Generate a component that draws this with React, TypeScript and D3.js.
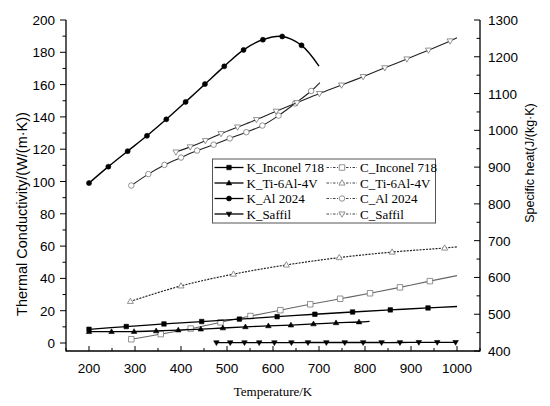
import React from "react";
import * as d3 from "d3";

// ---------- data ----------
const kInconelT = [200, 281, 363, 445, 527, 609, 691, 773, 855, 937, 1000];
const kInconelV = [8.5, 10.2, 11.8, 13.3, 14.8, 16.3, 17.8, 19.2, 20.5, 21.7, 22.6];

const kTiT = [200, 249, 298, 346, 394, 443, 491, 540, 590, 639, 688, 737, 787, 810];
const kTiV = [7.0, 7.0, 7.1, 7.5, 8.0, 8.6, 9.3, 10.0, 10.6, 11.1, 11.8, 12.5, 13.0, 13.4];

const kAlT = [200, 242, 284, 326, 368, 410, 452, 494, 536, 578, 620, 662, 700];
const kAlV = [99, 109.2, 118.8, 128.3, 138.5, 149.3, 160.3, 171.3, 181.5, 187.8, 189.8, 184.3, 171.5];

const kSaffilT = [477, 507, 538, 570, 603, 640, 676, 716, 756, 796, 836, 876, 917, 957, 997];
const kSaffilV = [0.2, 0.2, 0.2, 0.2, 0.2, 0.2, 0.3, 0.3, 0.3, 0.3, 0.3, 0.3, 0.4, 0.4, 0.4];

const cInconelT = [292, 356, 421, 486, 551, 616, 681, 746, 811, 876, 941, 1000];
const cInconelV = [432, 446, 461, 478, 495, 511, 527, 542, 557, 573, 590, 605];

const cTiT = [290, 400, 514, 629, 744, 859, 973, 1000];
const cTiV = [535, 577, 609, 634, 654, 669, 680, 683];

const cAlT = [292, 329, 364, 400, 435, 471, 506, 542, 577, 612, 648, 683, 702];
const cAlV = [850, 881, 906, 926, 945, 961, 978, 995, 1013, 1040, 1073, 1107, 1130];

const cSaffilT = [389, 420, 453, 487, 523, 564, 607, 652, 701, 749, 796, 843, 891, 938, 985, 1000];
const cSaffilV = [941, 955, 972, 991, 1009, 1029, 1052, 1075, 1100, 1123, 1146, 1170, 1194, 1218, 1243, 1252];

const xTicks = [200, 300, 400, 500, 600, 700, 800, 900, 1000];
const yLeftTicks = [0, 20, 40, 60, 80, 100, 120, 140, 160, 180, 200];
const yRightTicks = [400, 500, 600, 700, 800, 900, 1000, 1100, 1200, 1300];

// ---------- layout ----------
const W = 550;
const H = 406;
const L = 66;
const R = 480;
const T = 20;
const B = 351;

const x = d3.scaleLinear().domain([150, 1050]).range([L, R]);
const yL = d3.scaleLinear().domain([-4.95, 200]).range([B, T]);
const yR = d3.scaleLinear().domain([400, 1300]).range([B, T]);

type Marker = "square" | "triUp" | "circle" | "triDown";

interface Series {
  name: string;
  t: number[];
  v: number[];
  axis: "L" | "R";
  marker: Marker;
  filled: boolean;
  stroke: string;
  markerStroke: string;
  dash?: string;
  width: number;
  noMarkerLast: boolean;
}

const kSeries: Series[] = [
  { name: "K_Inconel 718", t: kInconelT, v: kInconelV, axis: "L", marker: "square", filled: true, stroke: "#000", markerStroke: "#000", width: 1.3, noMarkerLast: true },
  { name: "K_Ti-6Al-4V", t: kTiT, v: kTiV, axis: "L", marker: "triUp", filled: true, stroke: "#000", markerStroke: "#000", width: 1.3, noMarkerLast: true },
  { name: "K_Al 2024", t: kAlT, v: kAlV, axis: "L", marker: "circle", filled: true, stroke: "#000", markerStroke: "#000", width: 1.4, noMarkerLast: true },
  { name: "K_Saffil", t: kSaffilT, v: kSaffilV, axis: "L", marker: "triDown", filled: true, stroke: "#000", markerStroke: "#000", width: 1.3, noMarkerLast: false },
];

const cSeries: Series[] = [
  { name: "C_Inconel 718", t: cInconelT, v: cInconelV, axis: "R", marker: "square", filled: false, stroke: "#666", markerStroke: "#777", width: 1.1, noMarkerLast: true },
  { name: "C_Ti-6Al-4V", t: cTiT, v: cTiV, axis: "R", marker: "triUp", filled: false, stroke: "#222", markerStroke: "#777", dash: "2,1.2", width: 1.2, noMarkerLast: true },
  { name: "C_Al 2024", t: cAlT, v: cAlV, axis: "R", marker: "circle", filled: false, stroke: "#222", markerStroke: "#777", width: 1.1, noMarkerLast: true },
  { name: "C_Saffil", t: cSaffilT, v: cSaffilV, axis: "R", marker: "triDown", filled: false, stroke: "#222", markerStroke: "#777", width: 1.1, noMarkerLast: true },
];

function markerPath(m: Marker, cx: number, cy: number, s: number): string {
  const h = s / 2;
  switch (m) {
    case "square":
      return `M${cx - h},${cy - h}h${s}v${s}h${-s}Z`;
    case "triUp":
      return `M${cx},${cy - h * 1.15}L${cx + h * 1.1},${cy + h * 0.75}L${cx - h * 1.1},${cy + h * 0.75}Z`;
    case "triDown":
      return `M${cx},${cy + h * 1.15}L${cx + h * 1.1},${cy - h * 0.75}L${cx - h * 1.1},${cy - h * 0.75}Z`;
    case "circle":
    default:
      return `M${cx - h},${cy}a${h},${h} 0 1,0 ${s},0a${h},${h} 0 1,0 ${-s},0Z`;
  }
}

function MarkerShape({ s, cx, cy }: { s: Series; cx: number; cy: number }) {
  const size = s.filled ? (s.marker === "square" ? 4.5 : 5) : 5.5;
  return (
    <path
      d={markerPath(s.marker, cx, cy, size)}
      fill={s.filled ? "#000" : "#fff"}
      stroke={s.markerStroke}
      strokeWidth={s.filled ? 0.6 : 0.8}
    />
  );
}

function SeriesPlot({ s }: { s: Series }) {
  const ys = s.axis === "L" ? yL : yR;
  const pts: [number, number][] = s.t.map((t, i) => [x(t), ys(s.v[i])]);
  const line = d3.line<[number, number]>().curve(d3.curveCatmullRom.alpha(0.5))(pts) || "";
  const mk = s.noMarkerLast ? pts.slice(0, -1) : pts;
  return (
    <g>
      <path d={line} fill="none" stroke={s.stroke} strokeWidth={s.width} strokeDasharray={s.dash} />
      {mk.map((p, i) => (
        <MarkerShape key={i} s={s} cx={p[0]} cy={p[1]} />
      ))}
    </g>
  );
}

const sans = "'Liberation Sans', Arial, sans-serif";
const serif = "'Liberation Serif', 'Times New Roman', serif";

export default function App() {
  const xMinor = d3.range(150, 1051, 50);
  const yLMinor = d3.range(0, 201, 10);
  const yRMinor = d3.range(400, 1301, 50);

  const legX = 212.5;
  const legY = 159;
  const legW = 223;
  const legH = 64;
  const rowY = [167.5, 183, 198.5, 214];

  return (
    <div style={{ position: "fixed", left: 0, top: 0 }}>
      <svg width={W} height={H} style={{ display: "block", background: "#fff" }}>
        <rect x={0} y={0} width={W} height={H} fill="#fff" />

        {/* axes */}
        <g stroke="#000" strokeWidth={1.3} fill="none">
          <line x1={L} y1={T} x2={L} y2={B + 0.6} />
          <line x1={R} y1={T} x2={R} y2={B + 0.6} />
          <line x1={L} y1={B} x2={R} y2={B} />
        </g>

        {/* bottom ticks (inward) */}
        <g stroke="#000" strokeWidth={1}>
          {xMinor.map((t) => (
            <line key={"xm" + t} x1={x(t)} x2={x(t)} y1={B} y2={B - (t % 100 === 0 ? 5 : 3)} />
          ))}
        </g>
        <g fontFamily={sans} fontSize={13.5} textAnchor="middle" fill="#000">
          {xTicks.map((t) => (
            <text key={"xl" + t} x={x(t)} y={373}>{t}</text>
          ))}
        </g>

        {/* left ticks (outward) */}
        <g stroke="#000" strokeWidth={1}>
          {yLMinor.map((v) => (
            <line key={"ylm" + v} x1={L} x2={L - (v % 20 === 0 ? 6 : 3.5)} y1={yL(v)} y2={yL(v)} />
          ))}
        </g>
        <g fontFamily={sans} fontSize={13.5} textAnchor="end" fill="#000">
          {yLeftTicks.map((v) => (
            <text key={"yll" + v} x={55} y={yL(v) + 5}>{v}</text>
          ))}
        </g>

        {/* right ticks (inward) */}
        <g stroke="#000" strokeWidth={1}>
          {yRMinor.map((v) => (
            <line key={"yrm" + v} x1={R} x2={R - (v % 100 === 0 ? 6 : 3.5)} y1={yR(v)} y2={yR(v)} />
          ))}
        </g>
        <g fontFamily={sans} fontSize={13.5} textAnchor="start" fill="#000">
          {yRightTicks.map((v) => (
            <text key={"yrl" + v} x={488} y={yR(v) + 5}>{v}</text>
          ))}
        </g>

        {/* axis titles */}
        <text
          transform={`translate(27,${214}) rotate(-90)`}
          textAnchor="middle"
          fontFamily={sans}
          fontSize={14.5}
          fill="#000"
        >
          Thermal Conductivity/(W/(m·K))
        </text>
        <text
          transform={`translate(534,${163}) rotate(-90)`}
          textAnchor="middle"
          fontFamily={sans}
          fontSize={12.5}
          fill="#000"
        >
          Specific heat(J/(kg·K)
        </text>
        <text x={273} y={396} textAnchor="middle" fontFamily={serif} fontSize={13} fill="#000">
          Temperature/K
        </text>

        {/* series */}
        {cSeries.map((s) => (
          <SeriesPlot key={s.name} s={s} />
        ))}
        {kSeries.map((s) => (
          <SeriesPlot key={s.name} s={s} />
        ))}

        {/* legend */}
        <rect x={legX} y={legY} width={legW} height={legH} fill="#fff" stroke="#555" strokeWidth={1} />
        {kSeries.map((s, i) => (
          <g key={"lk" + s.name}>
            <line x1={214.5} x2={243.5} y1={rowY[i]} y2={rowY[i]} stroke="#000" strokeWidth={1.3} />
            <MarkerShape s={s} cx={229} cy={rowY[i]} />
            <text x={246.5} y={rowY[i] + 4.5} fontFamily={serif} fontSize={13} fill="#000">
              {s.name}
            </text>
          </g>
        ))}
        {cSeries.map((s, i) => (
          <g key={"lc" + s.name}>
            <line x1={326.5} x2={357} y1={rowY[i]} y2={rowY[i]} stroke="#444" strokeWidth={1} strokeDasharray="2.5,1.5,1,1.5" />
            <MarkerShape s={s} cx={342} cy={rowY[i]} />
            <text x={360} y={rowY[i] + 4.5} fontFamily={serif} fontSize={13} fill="#000">
              {s.name}
            </text>
          </g>
        ))}
      </svg>
    </div>
  );
}
